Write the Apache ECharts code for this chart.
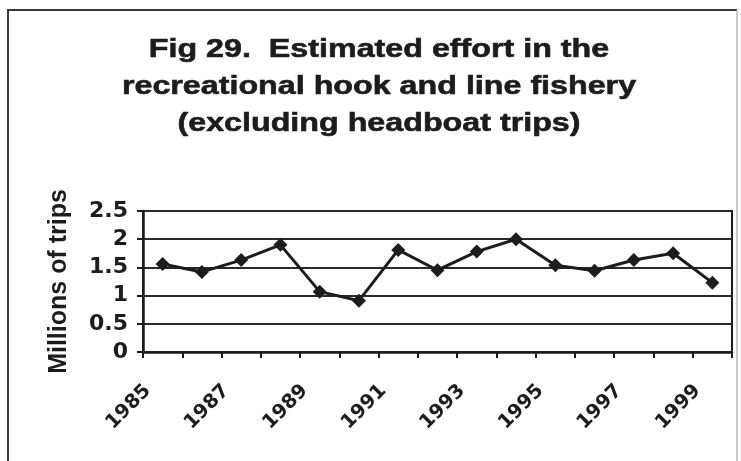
<!DOCTYPE html>
<html>
<head>
<meta charset="utf-8">
<script src="https://cdn.jsdelivr.net/npm/echarts@6/dist/echarts.min.js"></script>
<style>
  html, body { margin: 0; padding: 0; background: #ffffff; }
  #chart { width: 741px; height: 461px; }
</style>
</head>
<body>
<div id="chart"></div>
<script>
// Recreational hook-and-line effort, excluding headboat trips
const years = ['1985', '1986', '1987', '1988', '1989', '1990', '1991', '1992',
               '1993', '1994', '1995', '1996', '1997', '1998', '1999'];
const tripsMillions = [1.56, 1.42, 1.63, 1.90, 1.07, 0.91, 1.81, 1.45,
                       1.78, 2.00, 1.54, 1.44, 1.63, 1.75, 1.23];
const yTicks = { min: 0, max: 2.5, interval: 0.5 };

const titleText = 'Fig 29.  Estimated effort in the\nrecreational hook and line fishery\n(excluding headboat trips)';
const ink = '#1c1c1c';
const sans = '"Liberation Sans", Arial, sans-serif';
const wide = '"DejaVu Sans", Verdana, sans-serif';

const chart = echarts.init(document.getElementById('chart'), null, { renderer: 'canvas' });

chart.setOption({
  backgroundColor: '#ffffff',
  animation: false,
  graphic: [
    // outer frame of the figure: dark left and top edges, faint right edge
    {
      type: 'polyline',
      shape: { points: [[8, 461], [8, 10], [737, 10]] },
      style: { stroke: '#3a3a3a', lineWidth: 2, fill: null },
      silent: true
    },
    {
      type: 'line',
      shape: { x1: 737, y1: 10, x2: 737, y2: 461 },
      style: { stroke: '#b8b8b8', lineWidth: 1.5 },
      silent: true
    },
    // three-line heading, drawn slightly widened
    {
      type: 'text',
      x: 379,
      y: 31,
      scaleX: 1.24,
      scaleY: 1,
      silent: true,
      style: {
        text: titleText,
        fill: ink,
        font: 'bold 26px ' + sans,
        lineHeight: 37,
        align: 'center',
        verticalAlign: 'top',
        stroke: ink,
        lineWidth: 0.6
      }
    }
  ],
  grid: {
    left: 143,
    right: 9,
    top: 211,
    bottom: 109,
    show: true,
    borderColor: ink,
    borderWidth: 2
  },
  xAxis: {
    type: 'category',
    data: years,
    boundaryGap: true,
    axisLine: { lineStyle: { color: ink, width: 2.5 } },
    axisTick: { show: true, alignWithLabel: false, interval: 0, length: 6, lineStyle: { color: ink, width: 2 } },
    axisLabel: {
      interval: 1,
      rotate: 45,
      margin: 21,
      padding: [0, 21, 0, 0],
      color: ink,
      fontFamily: wide,
      fontWeight: 'bold',
      fontSize: 19.5
    },
    splitLine: { show: false }
  },
  yAxis: {
    type: 'value',
    min: yTicks.min,
    max: yTicks.max,
    interval: yTicks.interval,
    name: 'Millions of trips',
    nameLocation: 'middle',
    nameGap: 71,
    nameRotate: 90,
    nameTextStyle: {
      color: ink,
      fontFamily: sans,
      fontWeight: 'bold',
      fontSize: 25
    },
    axisLine: { show: true, lineStyle: { color: ink, width: 2.5 } },
    axisTick: { show: true, length: 6, lineStyle: { color: ink, width: 2 } },
    axisLabel: {
      margin: 15,
      color: ink,
      fontFamily: wide,
      fontWeight: 'bold',
      fontSize: 22
    },
    splitLine: { show: true, lineStyle: { color: '#2a2a2a', width: 2 } }
  },
  series: [
    {
      type: 'line',
      data: tripsMillions,
      symbol: 'diamond',
      symbolSize: 14,
      itemStyle: { color: ink },
      lineStyle: { color: ink, width: 3 }
    }
  ]
});
</script>
</body>
</html>
